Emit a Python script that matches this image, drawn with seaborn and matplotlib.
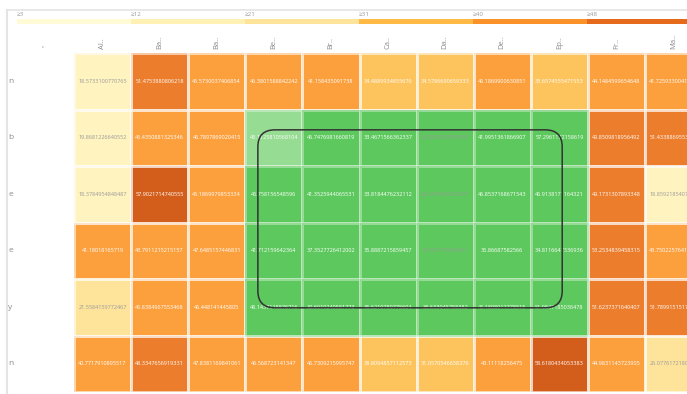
import numpy as np
import pandas as pd
import matplotlib
matplotlib.use("Agg")
import matplotlib.pyplot as plt
import seaborn as sns
from matplotlib.colors import ListedColormap, BoundaryNorm
from matplotlib.patches import FancyBboxPatch
from matplotlib.lines import Line2D

plt.rcParams['font.family'] = ['Open Sans', 'DejaVu Sans']

# ---- data ----
row_labels = ["n", "b", "e", "e", "y", "n"]
col_labels = ["Al..", "Ba..", "Ba..", "Be..", "Br..", "Ca..", "Da..", "De..", "Ep..", "Fr..", "Ma.."]

row_1 = [18.5733100770765, 51.4753880806218, 45.5730037406854, 46.3801588842242, 41.1584350917380,
         34.4889934855676, 34.5786690659333, 46.1869900630851, 33.6574555471553, 44.1484599654648, 41.7259330041231]
row_2 = [19.8681226640552, 45.4350881325346, 46.7897869020415, 43.1125810568104, 46.7476981660819,
         33.4671566362337, 25.2830102558347, 41.9951361866907, 57.2961172158619, 49.8509818956492, 51.4338869553407]
row_3 = [18.3784954848487, 57.9021714740555, 45.1869979853334, 45.7581565485960, 41.3525944065531,
         33.8184476232112, 26.2741003215271, 46.8537168671543, 46.9138171164321, 49.1731307893348, 18.8592185407734]
row_4 = [41.1801816571900, 43.7911215215157, 47.6485157446831, 41.7121596423640, 37.3527726412002,
         35.8887215859457, 30.5217318641310, 36.8668758256600, 34.8116647336936, 53.2534839458315, 43.7502257641208]
row_5 = [21.5584159772467, 45.8384967553468, 46.4481414458050, 48.1437118876716, 39.6919240581773,
         35.6210789775604, 38.6339457583820, 45.1808911778515, 51.9847185036478, 51.6237371640407, 51.7899151517613]
row_6 = [40.7717910895517, 48.3347656919331, 47.8381169841061, 46.5687231413470, 46.7309215995747,
         38.8094857112573, 31.0570546658376, 43.1111825647500, 58.6180434053383, 44.9831143723905, 26.0776172180412]

legend_labels = ["≥3", "≥12", "≥21", "≥31", "≥40", "≥48"]
bin_edges = [3, 12, 21, 31, 40, 48, 57, 66]
bin_colors = ["#fffbd6", "#fff3bf", "#fee49b", "#fdc45e", "#fca03e", "#eb7d2c", "#d35e1b"]
legend_colors = ["#fffbd6", "#fff1b3", "#fee39a", "#feba45", "#fb9129", "#e56a1c"]

# lasso selection (rows / columns, end exclusive) and hovered cell
sel_rows = (1, 5)
sel_cols = (3, 9)
hover_cell = (1, 3)

df = pd.DataFrame([row_1, row_2, row_3, row_4, row_5, row_6], index=row_labels, columns=col_labels)
vals = df.to_numpy()
annot = np.vectorize(repr)(vals)

fig = plt.figure(figsize=(6.87, 3.94), dpi=100)
W, H = 687, 394
cell_w, cell_h = 57.1, 56.5
x0, y0 = 74, 53
ax = fig.add_axes([x0 / W, 1 - (y0 + 6 * cell_h) / H, 11 * cell_w / W, 6 * cell_h / H])

cmap = ListedColormap(bin_colors)
norm = BoundaryNorm(bin_edges, cmap.N)
grid_col = (1, 1, 1, 0.35)
sns.heatmap(df, ax=ax, cmap=cmap, norm=norm, cbar=False, annot=annot, fmt="",
            annot_kws={"fontsize": 4}, linewidths=0.8, linecolor=grid_col)

# green selection overlay
rr, cc = np.indices(vals.shape)
selected = (rr >= sel_rows[0]) & (rr < sel_rows[1]) & (cc >= sel_cols[0]) & (cc < sel_cols[1])
sel_vals = np.where((rr == hover_cell[0]) & (cc == hover_cell[1]), 1.0, 0.0)
sns.heatmap(pd.DataFrame(sel_vals, index=row_labels, columns=col_labels), ax=ax, mask=~selected,
            cmap=ListedColormap(["#5dc85d", "#97dc93"]), vmin=0, vmax=1, cbar=False,
            linewidths=0.8, linecolor=grid_col)

for t, v in zip(ax.texts, vals.flatten()):
    t.set_color("#9a9a9a" if v < 31 else "white")
    t.set_zorder(5)

ax.xaxis.tick_top()
ax.set_xticks(np.arange(len(col_labels)) + 0.5)
ax.set_xticklabels(col_labels, rotation=90, fontsize=5.5, color="#8a8a8a")
ax.set_yticks(np.arange(len(row_labels)) + 0.5)
ax.set_yticklabels(row_labels, fontsize=6, color="#8a8a8a", ha="left", rotation=0, va="center")
ax.tick_params(axis="x", length=0, pad=3)
ax.tick_params(axis="y", length=0, pad=(x0 - 8) * 0.72)
ax.set_xlabel("")
ax.set_ylabel("")

# hand-drawn lasso round the selection
lasso = FancyBboxPatch((sel_cols[0] + 0.22, sel_rows[0] + 0.36),
                       (sel_cols[1] - sel_cols[0]) - 0.67, (sel_rows[1] - sel_rows[0]) - 0.85,
                       boxstyle="round,pad=0,rounding_size=0.3", fill=False,
                       ec="#333333", lw=1.1, zorder=6)
ax.add_patch(lasso)

# colour legend strip along the top
ax_leg = fig.add_axes([17 / W, 1 - 24 / H, 6 * 114 / W, 5 / H])
sns.heatmap([list(range(len(legend_labels)))], ax=ax_leg, cmap=ListedColormap(legend_colors),
            cbar=False, xticklabels=False, yticklabels=False)
for i, lab in enumerate(legend_labels):
    ax_leg.text(i, -0.5, lab, fontsize=4.5, color="#9a9a9a", va="bottom", ha="left", clip_on=False)

fig.text(42 / W, 1 - 47 / H, ",", fontsize=6, color="#8a8a8a")
fig.add_artist(Line2D([7 / W, 1], [1 - 10 / H] * 2, transform=fig.transFigure, color="#e4e4e4", lw=1.2))
fig.add_artist(Line2D([7 / W] * 2, [0, 1 - 10 / H], transform=fig.transFigure, color="#e4e4e4", lw=1.5))

fig.savefig("out.png", dpi=100)
